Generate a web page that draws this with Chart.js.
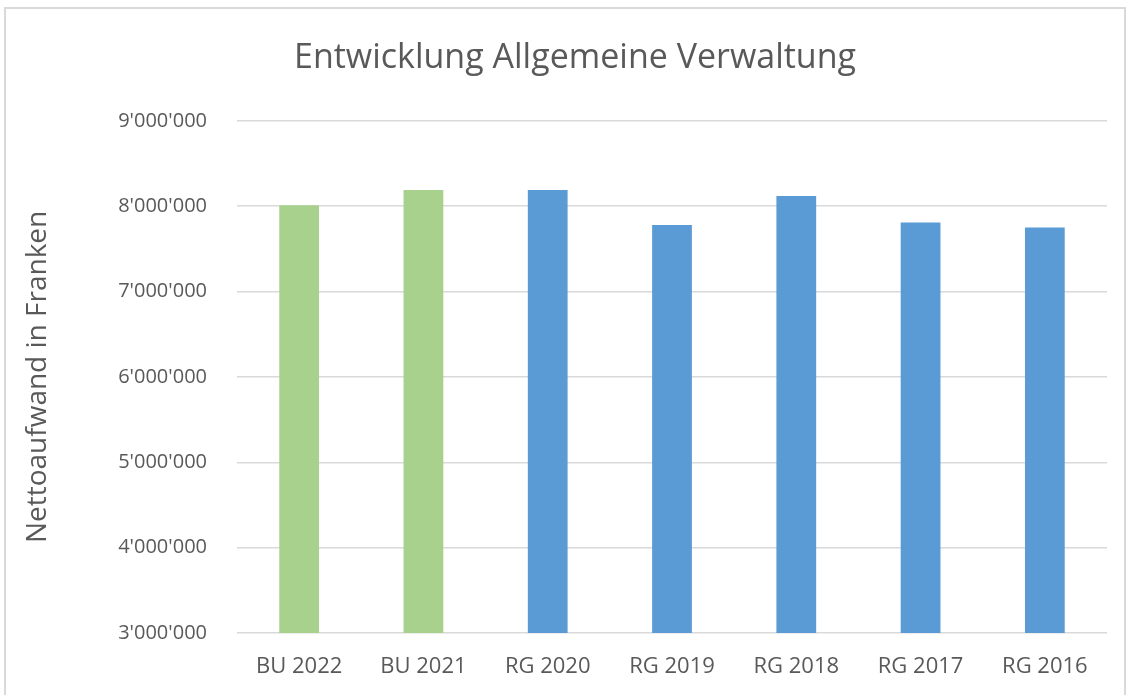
<!DOCTYPE html>
<html>
<head>
<meta charset="utf-8">
<script src="https://cdn.jsdelivr.net/npm/chart.js@4.4.0/dist/chart.umd.min.js"></script>
<style>
  html, body { margin: 0; padding: 0; background: #fff; }
  #wrap { position: absolute; left: 0; top: 0; width: 1130px; height: 695px; }
  #frame { position: absolute; left: 4px; top: 7px; width: 1122px; height: 700px; border: 2px solid #d9d9d9; box-sizing: border-box; }
</style>
</head>
<body>
<div id="wrap">
  <div id="frame"></div>
  <canvas id="barChart" width="1130" height="695"></canvas>
</div>
<script>
const categories = ["BU 2022", "BU 2021", "RG 2020", "RG 2019", "RG 2018", "RG 2017", "RG 2016"];
const values = [8010000, 8190000, 8190000, 7780000, 8120000, 7810000, 7750000];
const barColors = ["#a9d18e", "#a9d18e", "#5b9bd5", "#5b9bd5", "#5b9bd5", "#5b9bd5", "#5b9bd5"];
const yTicks = [3000000, 4000000, 5000000, 6000000, 7000000, 8000000, 9000000];

const fontFamily = "'Open Sans', 'DejaVu Sans', sans-serif";
const textColor = "#595959";

// 8000000 -> 8'000'000
function swissFormat(v) {
  return String(v).replace(/\B(?=(\d{3})+(?!\d))/g, "'");
}

new Chart("barChart", {
  type: "bar",
  data: {
    labels: categories,
    datasets: [{
      label: "Nettoaufwand",
      data: values,
      backgroundColor: barColors,
      borderWidth: 0,
      categoryPercentage: 1.0,
      barPercentage: 0.32
    }]
  },
  options: {
    responsive: false,
    animation: false,
    layout: {
      padding: { left: 43, right: 23, top: 8, bottom: 6 }
    },
    plugins: {
      legend: { display: false },
      tooltip: { enabled: false },
      title: {
        display: true,
        text: "Entwicklung Allgemeine Verwaltung",
        color: textColor,
        font: { family: fontFamily, size: 34, weight: "normal" },
        padding: { top: 30, bottom: 42 }
      }
    },
    scales: {
      x: {
        grid: { display: false },
        border: { display: false },
        ticks: {
          color: textColor,
          font: { family: fontFamily, size: 22 },
          padding: 13,
          maxRotation: 0
        },
        afterFit: function(scale) { scale.height = 56; }
      },
      y: {
        min: 3000000,
        max: 9000000,
        afterBuildTicks: function(scale) {
          scale.ticks = yTicks.map(v => ({ value: v }));
        },
        grid: { color: "#d9d9d9", lineWidth: 1.5, drawTicks: false },
        border: { display: false },
        ticks: {
          color: textColor,
          font: { family: fontFamily, size: 20 },
          padding: 30,
          callback: function(v) { return swissFormat(v); }
        },
        title: {
          display: true,
          text: "Nettoaufwand in Franken",
          color: textColor,
          font: { family: fontFamily, size: 28 },
          padding: { top: -22, bottom: 0 }
        },
        afterFit: function(scale) { scale.width = 194; }
      }
    }
  }
});
</script>
</body>
</html>
